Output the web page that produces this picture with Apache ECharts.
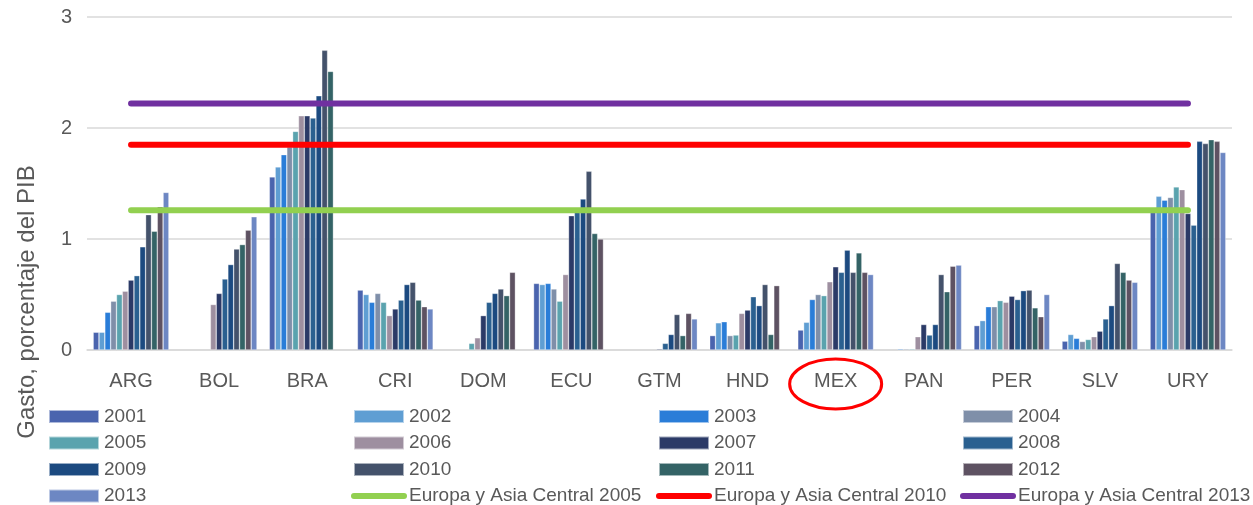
<!DOCTYPE html>
<html>
<head>
<meta charset="utf-8">
<script src="https://cdn.jsdelivr.net/npm/echarts@6/dist/echarts.min.js"></script>
<style>
  html, body { margin: 0; padding: 0; background: #fff; }
  #chart { width: 1253px; height: 505px; }
</style>
</head>
<body>
<div id="chart"></div>
<script>
const countries = ['ARG', 'BOL', 'BRA', 'CRI', 'DOM', 'ECU', 'GTM', 'HND', 'MEX', 'PAN', 'PER', 'SLV', 'URY']
const yTicks = [0, 1, 2, 3]

// gasto por año, en el orden de countries
const v2001 = [0.16, null, 1.56, 0.54, null, 0.60, null, 0.13, 0.18, null, 0.22, 0.08, 1.28]
const v2002 = [0.16, null, 1.65, 0.50, null, 0.59, null, 0.245, 0.25, null, 0.265, 0.14, 1.385]
const v2003 = [0.34, null, 1.76, 0.43, null, 0.60, null, 0.255, 0.455, 0.01, 0.39, 0.105, 1.35]
const v2004 = [0.44, null, 1.83, 0.51, null, 0.55, null, 0.13, 0.50, 0.01, 0.39, 0.077, 1.375]
const v2005 = [0.50, null, 1.97, 0.43, 0.06, 0.44, null, 0.135, 0.49, 0.01, 0.445, 0.095, 1.47]
const v2006 = [0.53, 0.41, 2.11, 0.31, 0.11, 0.68, null, 0.33, 0.615, 0.12, 0.43, 0.12, 1.445]
const v2007 = [0.63, 0.51, 2.11, 0.37, 0.31, 1.21, 0.01, 0.36, 0.75, 0.23, 0.485, 0.17, 1.23]
const v2008 = [0.67, 0.64, 2.09, 0.45, 0.43, 1.25, 0.06, 0.48, 0.70, 0.135, 0.455, 0.28, 1.125]
const v2009 = [0.93, 0.77, 2.29, 0.59, 0.51, 1.36, 0.14, 0.40, 0.90, 0.23, 0.535, 0.40, 1.88]
const v2010 = [1.22, 0.91, 2.70, 0.61, 0.55, 1.61, 0.32, 0.59, 0.70, 0.68, 0.54, 0.78, 1.86]
const v2011 = [1.07, 0.95, 2.51, 0.45, 0.49, 1.05, 0.13, 0.14, 0.875, 0.525, 0.38, 0.70, 1.895]
const v2012 = [1.29, 1.08, null, 0.39, 0.70, 1.00, 0.33, 0.58, 0.70, 0.755, 0.30, 0.63, 1.88]
const v2013 = [1.42, 1.20, null, 0.37, null, null, 0.28, null, 0.68, 0.765, 0.50, 0.61, 1.78]

// referencias Europa y Asia Central
const eca2005 = [1.26, 1.26, 1.26, 1.26, 1.26, 1.26, 1.26, 1.26, 1.26, 1.26, 1.26, 1.26, 1.26]
const eca2010 = [1.85, 1.85, 1.85, 1.85, 1.85, 1.85, 1.85, 1.85, 1.85, 1.85, 1.85, 1.85, 1.85]
const eca2013 = [2.22, 2.22, 2.22, 2.22, 2.22, 2.22, 2.22, 2.22, 2.22, 2.22, 2.22, 2.22, 2.22]

const years = ['2001', '2002', '2003', '2004', '2005', '2006', '2007', '2008', '2009', '2010', '2011', '2012', '2013']
const yearValues = [v2001, v2002, v2003, v2004, v2005, v2006, v2007, v2008, v2009, v2010, v2011, v2012, v2013]
const yearColors = ['#4A64AE', '#5F9ED3', '#2A7DD8', '#7F8FA9', '#5AA3AE', '#9E8FA0', '#2B3A67',
  '#2A6090', '#1C4A80', '#44526B', '#346366', '#5E5262', '#6D87C3']

const font = '"Liberation Sans", Arial, sans-serif'
const textColor = '#595959'

const barSeries = years.map((y, i) => ({
  name: y,
  type: 'bar',
  data: yearValues[i],
  barGap: 0,
  barCategoryGap: '14%',
  itemStyle: {
    color: yearColors[i],
    borderColor: 'rgba(255,255,255,0.55)',
    borderWidth: 0.6
  }
}))

function refLine (name, data, color) {
  return {
    name,
    type: 'line',
    data,
    symbol: 'none',
    z: 5,
    lineStyle: { color, width: 6, cap: 'round' },
    itemStyle: { color }
  }
}

function legendCol (left, names) {
  return {
    orient: 'vertical',
    left,
    top: 402,
    height: 110,
    itemWidth: 50,
    itemHeight: 13,
    itemGap: 7.5,
    data: names.map(n => n.startsWith('Europa')
      ? { name: n, itemStyle: { opacity: 0 }, lineStyle: { width: 6, cap: 'round' } }
      : { name: n, icon: 'rect' }),
    textStyle: { fontFamily: font, fontSize: 19, color: textColor }
  }
}

const chart = echarts.init(document.getElementById('chart'))
chart.setOption({
  animation: false,
  grid: { left: 87, right: 21, top: 17, bottom: 155 },
  legend: [
    legendCol(43, ['2001', '2005', '2009', '2013']),
    legendCol(346, ['2002', '2006', '2010', 'Europa y Asia Central 2005']),
    legendCol(651, ['2003', '2007', '2011', 'Europa y Asia Central 2010']),
    legendCol(955, ['2004', '2008', '2012', 'Europa y Asia Central 2013'])
  ],
  xAxis: {
    type: 'category',
    data: countries,
    axisTick: { show: false },
    axisLine: { lineStyle: { color: '#D9D9D9', width: 1.5 } },
    axisLabel: { fontFamily: font, fontSize: 20, color: textColor, margin: 21 }
  },
  yAxis: {
    type: 'value',
    min: yTicks[0],
    max: yTicks[yTicks.length - 1],
    interval: 1,
    axisLabel: { fontFamily: font, fontSize: 20, color: textColor, margin: 15 },
    splitLine: { lineStyle: { color: '#D9D9D9', width: 1.5 } }
  },
  series: barSeries.concat([
    refLine('Europa y Asia Central 2005', eca2005, '#92D050'),
    refLine('Europa y Asia Central 2010', eca2010, '#FF0000'),
    refLine('Europa y Asia Central 2013', eca2013, '#7030A0')
  ])
})

const mexX = chart.convertToPixel({ xAxisIndex: 0 }, 'MEX')
chart.setOption({
  graphic: [
    {
      type: 'text',
      x: 27,
      y: 302,
      rotation: Math.PI / 2,
      style: {
        text: 'Gasto, porcentaje del PIB',
        font: '24px "Liberation Sans", Arial, sans-serif',
        fill: textColor,
        textAlign: 'center',
        textVerticalAlign: 'middle',
        align: 'center',
        verticalAlign: 'middle'
      }
    },
    {
      type: 'ellipse',
      shape: { cx: mexX, cy: 384, rx: 46, ry: 25 },
      style: { fill: 'none', stroke: '#FF0000', lineWidth: 3 },
      z: 10
    }
  ]
})
</script>
</body>
</html>
